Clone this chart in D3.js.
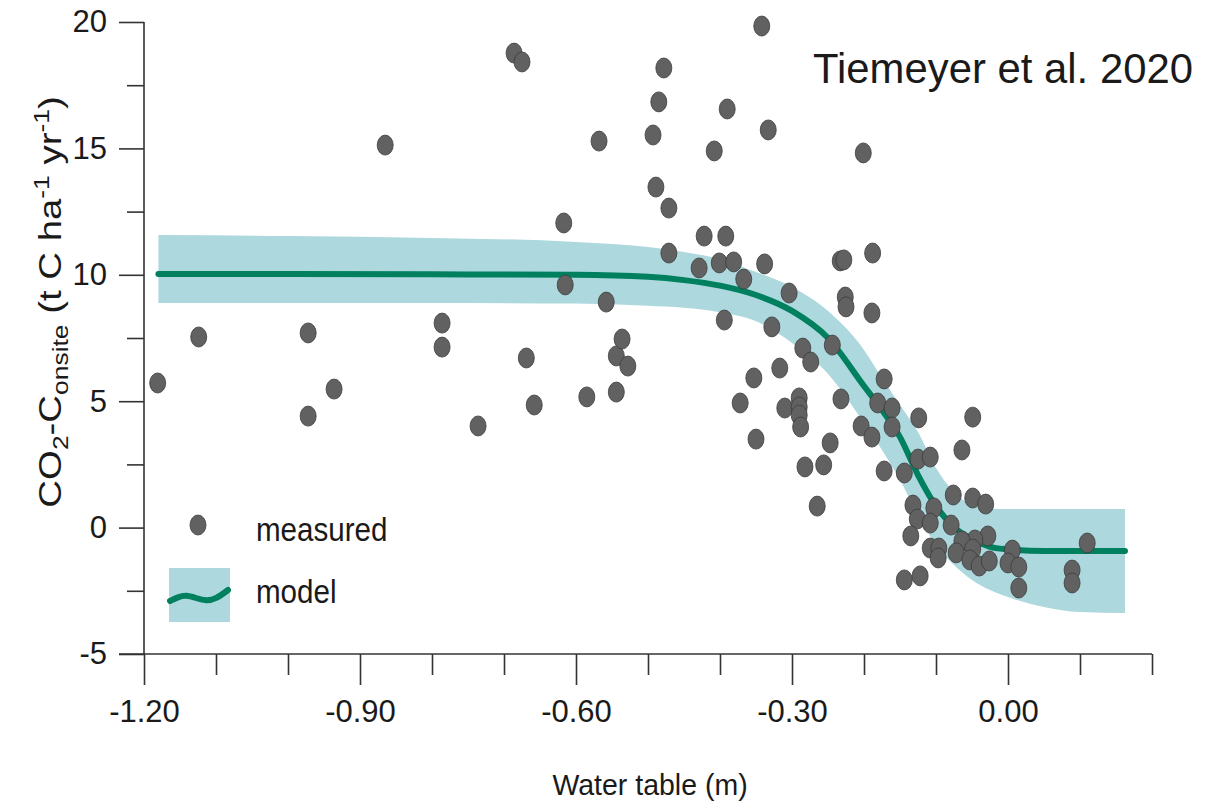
<!DOCTYPE html>
<html lang="en">
<head>
<meta charset="UTF-8">
<title>CO2-C onsite vs water table</title>
<style>
  body { margin: 0; background: #fff; }
  svg text { font-family: "Liberation Sans", Arial, sans-serif; fill: #1a1a1a; }
</style>
</head>
<body>
<svg id="chart"></svg>
<script src="https://d3js.org/d3.v7.min.js"></script>
<script>

// measured points: water table (m), CO2-C (t C ha-1 yr-1)
var wt = [-1.181, -1.124, -0.972, -0.972, -0.936, -0.865, -0.786, -0.786, -0.736, -0.686,
          -0.675, -0.669, -0.658, -0.617, -0.615, -0.585, -0.568, -0.558, -0.544, -0.544,
          -0.536, -0.528, -0.493, -0.489, -0.485, -0.478, -0.471, -0.471, -0.429, -0.422,
          -0.408, -0.401, -0.394, -0.392, -0.390, -0.381, -0.372, -0.367, -0.353, -0.350,
          -0.342, -0.338, -0.333, -0.328, -0.317, -0.310, -0.304, -0.290, -0.290, -0.290,
          -0.288, -0.285, -0.282, -0.274, -0.265, -0.256, -0.247, -0.244, -0.232, -0.233,
          -0.228, -0.226, -0.225, -0.204, -0.201, -0.189, -0.188, -0.189, -0.181, -0.172,
          -0.161, -0.161, -0.172, -0.144, -0.125, -0.108, -0.124, -0.049, -0.064, -0.076,
          -0.049, -0.031, -0.132, -0.103, -0.126, -0.108, -0.079, -0.135, -0.028, -0.046,
          -0.064, -0.108, -0.096, -0.097, -0.072, -0.049, -0.053, -0.040, -0.026, 0.006,
          0.000, 0.015, 0.015, 0.110, 0.089, 0.089, -0.144, -0.122];
var co2 = [5.72, 7.54, 7.70, 4.41, 5.48, 15.13, 8.09, 7.14, 4.02, 18.77,
           18.42, 6.71, 4.85, 12.05, 9.60, 5.17, 15.29, 8.92, 6.79, 5.36,
           7.46, 6.39, 15.53, 13.47, 16.84, 18.18, 12.64, 10.86, 10.27, 11.53,
           14.90, 10.47, 8.21, 11.53, 16.56, 10.51, 4.93, 9.83, 5.92, 3.50,
           19.84, 10.43, 15.73, 7.94, 6.31, 4.73, 9.28, 5.13, 4.77, 4.45,
           3.98, 7.10, 2.40, 6.55, 0.85, 2.48, 3.35, 7.22, 5.09, 10.55,
           10.59, 9.12, 8.73, 4.02, 14.82, 8.49, 10.86, 3.58, 4.93, 5.88,
           4.73, 3.98, 2.24, 2.16, 2.71, 2.79, 4.34, 4.37, 3.07, 1.29,
           1.17, 0.93, 0.89, 0.78, 0.34, 0.18, 0.10, -0.33, -0.33, -0.49,
           -0.53, -0.81, -0.81, -1.20, -1.00, -0.85, -1.28, -1.52, -1.32, -0.89,
           -1.40, -1.56, -2.39, -0.61, -1.68, -2.19, -2.07, -1.91];

// model curve and its band
var modelWt  = [-1.18, -1.0, -0.8, -0.6, -0.5, -0.45, -0.4, -0.35, -0.3, -0.25, -0.2,
                -0.175, -0.15, -0.125, -0.1, -0.075, -0.05, -0.025, 0, 0.05, 0.1, 0.1625];
var modelFit = [10.03, 10.03, 10.02, 10.0, 9.92, 9.79, 9.57, 9.20, 8.57, 7.50, 5.60,
                4.65, 3.58, 2.08, 0.85, 0.02, -0.46, -0.76, -0.86, -0.93, -0.93, -0.93];
var modelHi  = [11.57, 11.53, 11.46, 11.30, 11.10, 10.90, 10.62, 10.11, 9.52, 8.57, 7.03,
                5.92, 4.85, 3.78, 2.36, 1.41, 0.89, 0.76, 0.74, 0.74, 0.74, 0.74];
var modelLo  = [8.88, 8.88, 8.88, 8.86, 8.78, 8.70, 8.52, 8.16, 7.30, 6.08, 4.14,
                3.07, 1.88, 0.50, -0.69, -1.48, -2.07, -2.47, -2.75, -3.14, -3.34, -3.38];

var xMajor = [-1.2, -0.9, -0.6, -0.3, 0.0];
var xMinor = [-1.1, -1.0, -0.8, -0.7, -0.5, -0.4, -0.2, -0.1, 0.1, 0.2];
var yMajor = [20, 15, 10, 5, 0, -5];
var yMinor = [17.5, 12.5, 7.5, 2.5, -2.5];

var W = 1223, H = 806;
var svg = d3.select("#chart").attr("width", W).attr("height", H);

var x = d3.scaleLinear().domain([-1.2, 0.2]).range([144, 1152]);
var y = d3.scaleLinear().domain([-5, 20]).range([654, 22]);

var bandColor = "#acd8de", lineColor = "#00805f", axisColor = "#333";
var hyphen = function(f) { return function(d) { return f(d).replace("\u2212", "-"); }; };

var model = modelWt.map(function(d, i) {
  return { x: d, fit: modelFit[i], hi: modelHi[i], lo: modelLo[i] };
});

// band
svg.append("path")
  .datum(model)
  .attr("fill", bandColor)
  .attr("d", d3.area()
    .x(function(d) { return x(d.x); })
    .y0(function(d) { return y(d.lo); })
    .y1(function(d) { return y(d.hi); })
    .curve(d3.curveMonotoneX));

// fitted line
svg.append("path")
  .datum(model)
  .attr("fill", "none")
  .attr("stroke", lineColor)
  .attr("stroke-width", 6)
  .attr("stroke-linecap", "round")
  .attr("d", d3.line()
    .x(function(d) { return x(d.x); })
    .y(function(d) { return y(d.fit); })
    .curve(d3.curveMonotoneX));

// axes
var yAxis = svg.append("g").attr("transform", "translate(144,0)");
yAxis.call(d3.axisLeft(y).tickValues(yMajor).tickSize(25).tickPadding(12)
  .tickFormat(hyphen(d3.format("d"))));
yAxis.append("g").call(d3.axisLeft(y).tickValues(yMinor).tickSize(17).tickFormat(""))
  .select(".domain").remove();

var xAxis = svg.append("g").attr("transform", "translate(0,654)");
xAxis.call(d3.axisBottom(x).tickValues(xMajor).tickSize(31).tickPadding(13)
  .tickFormat(hyphen(d3.format(".2f"))));
xAxis.append("g").call(d3.axisBottom(x).tickValues(xMinor).tickSize(21).tickFormat(""))
  .select(".domain").remove();

svg.selectAll(".domain").attr("stroke", axisColor).attr("stroke-width", 1.6);
xAxis.select(".domain").attr("d", "M119,0H" + x(0.2));
yAxis.select(".domain").attr("d", "M0," + y(20) + "V" + y(-5));
svg.selectAll(".tick line").attr("stroke", axisColor).attr("stroke-width", 1.6);
svg.selectAll(".tick text")
  .attr("font-size", 31)
  .attr("font-family", "Liberation Sans, Arial, sans-serif")
  .attr("fill", "#1a1a1a");
xAxis.selectAll(".tick text").attr("dy", "0.78em");

// measured dots
svg.append("g").selectAll("ellipse")
  .data(wt.map(function(d, i) { return [d, co2[i]]; }))
  .join("ellipse")
  .attr("cx", function(d) { return x(d[0]); })
  .attr("cy", function(d) { return y(d[1]); })
  .attr("rx", 8)
  .attr("ry", 10)
  .attr("fill", "#616161")
  .attr("stroke", "#3c3c3c")
  .attr("stroke-width", 0.8);

// axis titles
svg.append("text")
  .attr("transform", "translate(650,795) scale(0.95,1)")
  .attr("text-anchor", "middle")
  .attr("font-size", 30)
  .text("Water table (m)");

var yt = svg.append("text")
  .attr("transform", "translate(61,302) rotate(-90) scale(1.2,1)")
  .attr("text-anchor", "middle")
  .attr("font-size", 32);
yt.append("tspan").text("CO");
yt.append("tspan").attr("font-size", 22).attr("dy", 7).text("2");
yt.append("tspan").attr("dy", -7).text("-C");
yt.append("tspan").attr("font-size", 22).attr("dy", 7).text("onsite");
yt.append("tspan").attr("dy", -7).text(" (t C ha");
yt.append("tspan").attr("font-size", 22).attr("dy", -12).text("-1");
yt.append("tspan").attr("dy", 12).text(" yr");
yt.append("tspan").attr("font-size", 22).attr("dy", -12).text("-1");
yt.append("tspan").attr("dy", 12).text(")");

// legend
var lg = svg.append("g").attr("transform", "translate(198,525)");
lg.append("ellipse").attr("rx", 8).attr("ry", 10)
  .attr("fill", "#616161").attr("stroke", "#3c3c3c").attr("stroke-width", 0.8);
lg.append("text")
  .attr("transform", "scale(0.87,1)").attr("x", 58 / 0.87).attr("y", 16)
  .attr("font-size", 34).text("measured");
lg.append("rect").attr("x", -29).attr("y", 43).attr("width", 61).attr("height", 54)
  .attr("fill", bandColor);
lg.append("path")
  .datum([[-28, 76], [-20, 72], [-12, 70], [-2, 73], [8, 76], [18, 74], [30, 65]])
  .attr("fill", "none").attr("stroke", lineColor)
  .attr("stroke-width", 6).attr("stroke-linecap", "round")
  .attr("d", d3.line().curve(d3.curveBasis));
lg.append("text")
  .attr("transform", "scale(0.87,1)").attr("x", 58 / 0.87).attr("y", 78)
  .attr("font-size", 34).text("model");

// source note
svg.append("text")
  .attr("x", 813).attr("y", 83)
  .attr("font-family", "Lato, 'Open Sans', sans-serif")
  .attr("font-size", 42)
  .attr("fill", "#000")
  .attr("textLength", 380)
  .attr("lengthAdjust", "spacingAndGlyphs")
  .text("Tiemeyer et al. 2020");

</script>
</body>
</html>
